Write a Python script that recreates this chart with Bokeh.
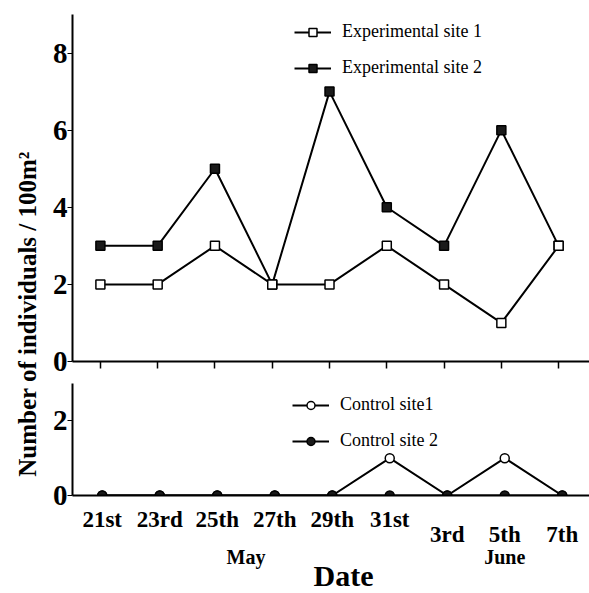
from bokeh.plotting import figure
from bokeh.layouts import row, column
from bokeh.models import (Legend, LegendItem, LinearAxis, Range1d, ColumnDataSource,
                          FixedTicker, Title)
from bokeh.embed import file_html
from bokeh.resources import INLINE

# ---------------- data ----------------
dates = ["21st", "23rd", "25th", "27th", "29th", "31st", "3rd", "5th", "7th"]
months = ["May", "May", "May", "May", "May", "May", "June", "June", "June"]
exp_site1 = [2, 2, 3, 2, 2, 3, 2, 1, 3]
exp_site2 = [3, 3, 5, 2, 7, 4, 3, 6, 3]
ctrl_site1 = [0, 0, 0, 0, 0, 1, 0, 1, 0]
ctrl_site2 = [0, 0, 0, 0, 0, 0, 0, 0, 0]
top_ticks = [0, 2, 4, 6, 8]
bottom_ticks = [0, 2]
y_label = "Number of individuals / 100m\u00b2"
x_label = "Date"

SERIF = "Liberation Serif"
INK = "black"

# sampling dates are equally spaced: use their order as the x coordinate
pos = list(range(len(dates)))
src = ColumnDataSource(dict(x=pos, exp1=exp_site1, exp2=exp_site2, c1=ctrl_site1, c2=ctrl_site2))
month_names = list(dict.fromkeys(months))
month_pos = {m: [p for p, mm in zip(pos, months) if mm == m] for m in month_names}
month_centre = {m: sum(v) / len(v) for m, v in month_pos.items()}


def style_common(p):
    p.grid.visible = False
    p.outline_line_color = None
    p.background_fill_color = "white"
    p.border_fill_color = "white"


def style_y(ax, ticks):
    ax.ticker = FixedTicker(ticks=ticks)
    ax.major_label_text_font = SERIF
    ax.major_label_text_font_style = "bold"
    ax.major_label_text_font_size = "29px"
    ax.major_label_text_color = INK
    ax.major_label_standoff = 0
    ax.major_tick_out = 5
    ax.major_tick_in = 0
    ax.minor_tick_out = 0
    ax.minor_tick_in = 0
    ax.axis_line_width = 2
    ax.axis_line_color = INK
    ax.major_tick_line_color = INK


def style_x_labels(ax, size):
    ax.major_label_text_font = SERIF
    ax.major_label_text_font_style = "bold"
    ax.major_label_text_font_size = size
    ax.major_label_text_color = INK
    ax.major_tick_out = 0
    ax.major_tick_in = 0
    ax.minor_tick_out = 0
    ax.minor_tick_in = 0


def make_legend(items, loc):
    return Legend(items=items, location=loc, padding=0, margin=0, spacing=15,
                  glyph_width=37, glyph_height=20, label_standoff=11,
                  label_text_font=SERIF, label_text_font_size="18px",
                  label_text_color=INK,
                  border_line_color=None, background_fill_alpha=0)


# ---------------- y label strip ----------------
lab = figure(width=46, height=593, x_range=(0, 1), y_range=(0, 1),
             toolbar_location=None, output_backend="svg",
             min_border_left=40, min_border_right=0, min_border_top=34, min_border_bottom=0)
style_common(lab)
lab.xaxis.visible = False
ya = lab.yaxis[0]
ya.ticker = FixedTicker(ticks=[])
ya.axis_label = y_label
ya.axis_label_text_font = SERIF
ya.axis_label_text_font_style = "bold"
ya.axis_label_text_font_size = "25px"
ya.axis_label_text_color = INK
ya.axis_label_standoff = 0
ya.major_tick_out = 0
ya.major_tick_in = 0
ya.minor_tick_out = 0
ya.minor_tick_in = 0
ya.major_label_standoff = 0
ya.axis_line_color = None

# ---------------- top panel ----------------
top = figure(width=543, height=379, x_range=Range1d(-0.487, 8.539), y_range=Range1d(0, 9),
             toolbar_location=None, output_backend="svg",
             min_border_left=24, min_border_right=0, min_border_top=14, min_border_bottom=18)
style_common(top)
tx = top.xaxis[0]
tx.ticker = FixedTicker(ticks=pos)
tx.major_label_overrides = {p: "" for p in pos}
tx.major_label_standoff = 0
tx.major_label_text_font_size = "1px"
tx.major_tick_out = 7
tx.major_tick_in = 0
tx.minor_tick_out = 0
tx.minor_tick_in = 0
tx.major_tick_line_width = 1.5
tx.major_tick_line_color = INK
tx.axis_line_width = 2
tx.axis_line_color = INK
style_y(top.yaxis[0], top_ticks)

l2 = top.line("x", "exp2", source=src, line_color=INK, line_width=2)
m2 = top.scatter("x", "exp2", source=src, marker="square", size=9,
                 fill_color="#1a1a1a", line_color=INK, line_width=1.5)
l1 = top.line("x", "exp1", source=src, line_color=INK, line_width=2)
m1 = top.scatter("x", "exp1", source=src, marker="square", size=9,
                 fill_color="white", line_color=INK, line_width=1.5)

top.add_layout(make_legend([LegendItem(label="Experimental site 1", renderers=[l1, m1]),
                            LegendItem(label="Experimental site 2", renderers=[l2, m2])],
                           (222, 283)))

# ---------------- bottom panel ----------------
bot = figure(width=543, height=214, x_range=Range1d(-0.517, 8.474), y_range=Range1d(0, 3),
             toolbar_location=None, output_backend="svg",
             min_border_left=26, min_border_right=0, min_border_top=4, min_border_bottom=98)
style_common(bot)
style_y(bot.yaxis[0], bottom_ticks)

# May dates
ax_a = bot.xaxis[0]
style_x_labels(ax_a, "23px")
ax_a.ticker = FixedTicker(ticks=month_pos["May"])
ax_a.major_label_overrides = {p: dates[p] for p in month_pos["May"]}
ax_a.major_label_standoff = 11
ax_a.axis_line_width = 2
ax_a.axis_line_color = INK

# June dates (set a little lower)
ax_b = LinearAxis()
style_x_labels(ax_b, "23px")
ax_b.ticker = FixedTicker(ticks=month_pos["June"])
ax_b.major_label_overrides = {p: dates[p] for p in month_pos["June"]}
ax_b.major_label_standoff = -13
ax_b.axis_line_color = None
bot.add_layout(ax_b, "below")

# month names
ax_c = LinearAxis()
style_x_labels(ax_c, "20px")
ax_c.ticker = FixedTicker(ticks=[month_centre[m] for m in month_names])
ax_c.major_label_overrides = {month_centre[m]: m for m in month_names}
ax_c.major_label_standoff = -4
ax_c.axis_line_color = None
bot.add_layout(ax_c, "below")

bot.add_layout(Title(text=x_label, align="left", offset=241, standoff=-28,
                     text_font=SERIF, text_font_style="bold", text_font_size="30px",
                     text_color=INK),
               "below")

lc1 = bot.line("x", "c1", source=src, line_color=INK, line_width=2)
mc1 = bot.scatter("x", "c1", source=src, marker="circle", size=9,
                  fill_color="white", line_color=INK, line_width=1.5)
lc2 = bot.line("x", "c2", source=src, line_color=INK, line_width=2)
mc2 = bot.scatter("x", "c2", source=src, marker="circle", size=9,
                  fill_color="#1a1a1a", line_color=INK, line_width=1.5)

bot.add_layout(make_legend([LegendItem(label="Control site1", renderers=[lc1, mc1]),
                            LegendItem(label="Control site 2", renderers=[lc2, mc2])],
                           (220, 44)))

layout = row(lab, column(top, bot, spacing=0), spacing=0)
open("out.html", "w").write(file_html(layout, INLINE))
